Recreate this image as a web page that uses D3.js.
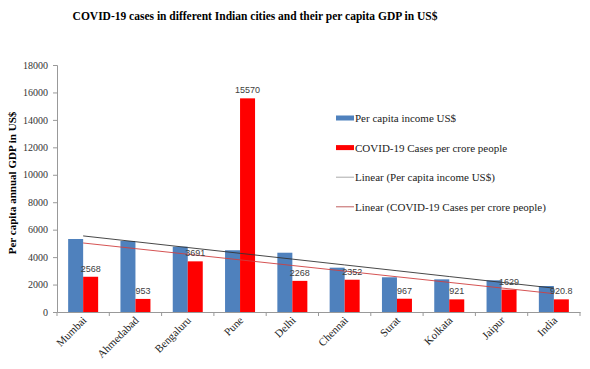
<!DOCTYPE html>
<html>
<head>
<meta charset="utf-8">
<script src="https://cdn.jsdelivr.net/npm/d3@7"></script>
<style>
  body { margin: 0; background: #fff; }
  svg { display: block; }
</style>
</head>
<body>
<div class="graphics"></div>
<script>
const cities = ["Mumbai", "Ahmedabad", "Bengaluru", "Pune", "Delhi", "Chennai", "Surat", "Kolkata", "Jaipur", "India"];
const income = [5320, 5175, 4760, 4500, 4320, 3230, 2530, 2380, 2310, 1895];
const cases = [2568, 953, 3691, 15570, 2268, 2352, 967, 921, 1629, 920.8];
const caseLabels = ["2568", "953", "3691", "15570", "2268", "2352", "967", "921", "1629", "920.8"];
const yTicks = [0, 2000, 4000, 6000, 8000, 10000, 12000, 14000, 16000, 18000];
const legendItems = ["Per capita income US$", "COVID-19 Cases per crore people", "Linear (Per capita income US$)", "Linear (COVID-19 Cases per crore people)"];

const width = 590, height = 369;
const margin = { top: 65, right: 10, bottom: 57, left: 57 };
const blue = "#4f81bd", red = "#ff0000";
const serif = "Liberation Serif, Times New Roman, serif";

const svg = d3.select(".graphics").append("svg")
  .attr("width", width).attr("height", height);

svg.append("text")
  .attr("x", 255).attr("y", 20)
  .attr("text-anchor", "middle")
  .attr("font-family", serif).attr("font-weight", "bold").attr("font-size", 11.5)
  .text("COVID-19 cases in different Indian cities and their per capita GDP in US$");

const x = d3.scaleBand().domain(cities).range([margin.left, width - margin.right]);
const y = d3.scaleLinear().domain([0, 18000]).range([height - margin.bottom, margin.top]);
const bw = 15;

// y axis
const yAxis = svg.append("g").attr("transform", `translate(${margin.left},0)`)
  .call(d3.axisLeft(y).tickValues(yTicks).tickFormat(d3.format("d")).tickSize(4).tickPadding(5));
yAxis.attr("font-family", serif);
yAxis.select(".domain").attr("stroke", "#999");
yAxis.selectAll(".tick line").attr("stroke", "#999");
yAxis.selectAll("text").attr("font-size", 10).attr("fill", "#333");

// x axis
const xAxis = svg.append("g").attr("transform", `translate(0,${y(0)})`)
  .call(d3.axisBottom(x).tickSize(0).tickSizeOuter(0).tickFormat(""));
xAxis.select(".domain").attr("stroke", "#999");
xAxis.selectAll(".sep").data(d3.range(cities.length + 1)).join("line")
  .attr("x1", i => margin.left + i * x.step()).attr("x2", i => margin.left + i * x.step())
  .attr("y1", 0).attr("y2", 4).attr("stroke", "#999");

svg.append("g").selectAll("text").data(cities).join("text")
  .attr("transform", d => `translate(${x(d) + x.bandwidth() / 2 + 4},${y(0) + 9}) rotate(-45)`)
  .attr("text-anchor", "end")
  .attr("font-family", serif).attr("font-size", 11).attr("fill", "#222")
  .text(d => d);

// bars
svg.append("g").attr("fill", blue).selectAll("rect").data(income).join("rect")
  .attr("x", (d, i) => x(cities[i]) + x.bandwidth() / 2 - bw)
  .attr("y", d => y(d)).attr("width", bw).attr("height", d => y(0) - y(d));
svg.append("g").attr("fill", red).selectAll("rect").data(cases).join("rect")
  .attr("x", (d, i) => x(cities[i]) + x.bandwidth() / 2)
  .attr("y", d => y(d)).attr("width", bw).attr("height", d => y(0) - y(d));

// linear trendlines
function trend(vals) {
  const xs = vals.map((v, i) => i + 1);
  const mx = d3.mean(xs), my = d3.mean(vals);
  const slope = d3.sum(xs, (xi, i) => (xi - mx) * (vals[i] - my)) / d3.sum(xs, xi => (xi - mx) ** 2);
  return xs.map(xi => my + slope * (xi - mx));
}
const line = d3.line().x((d, i) => x(cities[i]) + x.bandwidth() / 2).y(d => y(d));
svg.append("path").attr("d", line(trend(income))).attr("fill", "none").attr("stroke", "#333").attr("stroke-width", 0.9);
svg.append("path").attr("d", line(trend(cases))).attr("fill", "none").attr("stroke", "#d04040").attr("stroke-width", 0.9);

// data labels
svg.append("g").selectAll("text").data(cases).join("text")
  .attr("x", (d, i) => x(cities[i]) + x.bandwidth() / 2 + bw / 2)
  .attr("y", d => y(d) - 5)
  .attr("text-anchor", "middle")
  .attr("font-family", "Liberation Sans, Arial, sans-serif").attr("font-size", 9).attr("fill", "#404040")
  .text((d, i) => caseLabels[i]);

// y label
svg.append("text")
  .attr("transform", `translate(16,${183}) rotate(-90)`)
  .attr("text-anchor", "middle")
  .attr("font-family", serif).attr("font-weight", "bold").attr("font-size", 11)
  .text("Per capita annual GDP in US$");

// legend
const lg = svg.append("g").selectAll("g").data(legendItems).join("g")
  .attr("transform", (d, i) => `translate(336,${118 + i * 29.6})`);
lg.each(function (d, i) {
  const g = d3.select(this);
  if (i < 2) g.append("rect").attr("x", 0).attr("y", -2.5).attr("width", 18).attr("height", 5).attr("fill", i === 0 ? blue : red);
  else g.append("line").attr("x1", 0).attr("x2", 18).attr("y1", 0).attr("y2", 0)
    .attr("stroke", i === 2 ? "#aaa" : "#c06060").attr("stroke-width", 1);
});
lg.append("text").attr("x", 19).attr("y", 4)
  .attr("font-family", serif).attr("font-size", 11).attr("fill", "#222")
  .text(d => d);
</script>
</body>
</html>
